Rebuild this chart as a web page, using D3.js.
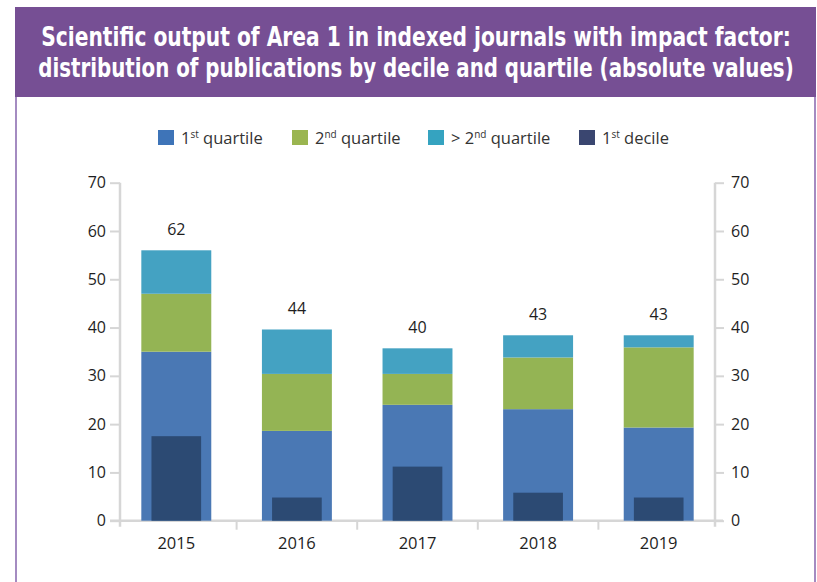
<!DOCTYPE html>
<html>
<head>
<meta charset="utf-8">
<script src="https://cdn.jsdelivr.net/npm/d3@7"></script>
<style>
  html, body { margin: 0; padding: 0; background: #ffffff; }
  svg { display: block; }
</style>
</head>
<body>
<svg id="chart" width="817" height="582"></svg>
<script>
// ---- data ----
const years = ["2015", "2016", "2017", "2018", "2019"];
const quartile1 = [35, 18.6, 24, 23.1, 19.3];
const quartile2 = [12, 11.8, 6.4, 10.7, 16.6];
const aboveQuartile2 = [9, 9.2, 5.3, 4.6, 2.5];
const decile1 = [17.5, 4.8, 11.2, 5.8, 4.8];
const totalLabels = [62, 44, 40, 43, 43];
const yTicks = [0, 10, 20, 30, 40, 50, 60, 70];
const titleLines = [
  "Scientific output of Area 1 in indexed journals with impact factor:",
  "distribution of publications by decile and quartile (absolute values)"
];

const colors = {
  q1: "#4a78b4",
  q2: "#94b454",
  gt2: "#44a2c2",
  dec: "#2c4a73"
};
const legendColors = ["#3e74b8", "#9ab550", "#35a3c0", "#3a4670"];

const svg = d3.select("#chart");
const bodyFont = "'Open Sans', 'Noto Sans', sans-serif";

// ---- frame ----
svg.append("rect").attr("x", 15).attr("y", 7).attr("width", 801).attr("height", 90)
  .attr("fill", "#764f94");
svg.append("line").attr("x1", 16).attr("x2", 16).attr("y1", 97).attr("y2", 582)
  .attr("stroke", "#a48bc1").attr("stroke-width", 2);
svg.append("line").attr("x1", 815).attr("x2", 815).attr("y1", 97).attr("y2", 582)
  .attr("stroke", "#a48bc1").attr("stroke-width", 2);

// ---- title ----
const titleWidths = [750, 756];
const titleBaselines = [46, 77];
titleLines.forEach((t, i) => {
  const g = svg.append("g");
  const el = g.append("text")
    .attr("x", 0).attr("y", 0)
    .attr("text-anchor", "middle")
    .attr("fill", "#ffffff")
    .style("font-family", "'DejaVu Sans Condensed', 'Liberation Sans Narrow', sans-serif")
    .style("font-weight", "bold")
    .style("font-size", "26px")
    .text(t);
  const w = el.node().getComputedTextLength();
  const sx = w > 0 ? titleWidths[i] / w : 1;
  g.attr("transform", `translate(416,${titleBaselines[i]}) scale(${sx},1)`);
});

// ---- scales ----
const x = d3.scaleBand().domain(years).range([116, 719]).paddingInner(0.42).paddingOuter(0.21);
const y = d3.scaleLinear().domain([0, 70]).range([520.7, 182.7]);

const axisColor = "#d6d6d6";

// ---- axes ----
const leftAxis = svg.append("g").attr("transform", "translate(120,0)")
  .call(d3.axisLeft(y).tickValues(yTicks).tickSize(10).tickPadding(4).tickFormat(d3.format("d")));
const rightAxis = svg.append("g").attr("transform", "translate(715,0)")
  .call(d3.axisRight(y).tickValues(yTicks).tickSize(9).tickPadding(7).tickFormat(d3.format("d")));
[leftAxis, rightAxis].forEach(a => {
  a.select(".domain").attr("stroke", axisColor).attr("stroke-width", 2.5)
    .attr("d", `M0,${y(70)}V${y(0) + 6}`);
  a.selectAll(".tick line").attr("stroke", axisColor).attr("stroke-width", 2);
  a.selectAll(".tick text").attr("fill", "#1e1e1e").style("font-family", bodyFont).style("font-size", "16px");
});

// x baseline
svg.append("line").attr("x1", 110).attr("x2", 723).attr("y1", y(0)).attr("y2", y(0))
  .attr("stroke", axisColor).attr("stroke-width", 2.5);
// category separator ticks
const separators = years.slice(0, -1).map(d => x(d) + x.bandwidth() / 2 + x.step() / 2);
svg.selectAll(".sep").data(separators).enter().append("line")
  .attr("x1", d => d).attr("x2", d => d).attr("y1", y(0)).attr("y2", y(0) + 9)
  .attr("stroke", axisColor).attr("stroke-width", 2);
// year labels
svg.selectAll(".year").data(years).enter().append("text")
  .attr("x", d => x(d) + x.bandwidth() / 2).attr("y", 549)
  .attr("text-anchor", "middle").attr("fill", "#1e1e1e")
  .style("font-family", bodyFont).style("font-size", "16.5px")
  .text(d => d);

// ---- stacked bars ----
const rows = years.map((yr, i) => ({ year: yr, q1: quartile1[i], q2: quartile2[i], gt2: aboveQuartile2[i], dec: decile1[i], label: totalLabels[i] }));
const stack = d3.stack().keys(["q1", "q2", "gt2"])(rows);
svg.append("g").selectAll("g").data(stack).enter().append("g")
  .attr("fill", s => colors[s.key])
  .selectAll("rect").data(s => s).enter().append("rect")
  .attr("x", d => x(d.data.year))
  .attr("width", x.bandwidth())
  .attr("y", d => y(d[1]))
  .attr("height", d => y(d[0]) - y(d[1]));

// decile inner bars
const inset = x.bandwidth() * 0.145;
svg.append("g").selectAll("rect").data(rows).enter().append("rect")
  .attr("x", d => x(d.year) + inset)
  .attr("width", x.bandwidth() - 2 * inset)
  .attr("y", d => y(d.dec))
  .attr("height", d => y(0) - y(d.dec))
  .attr("fill", colors.dec);

// total labels
svg.append("g").selectAll("text").data(rows).enter().append("text")
  .attr("x", d => x(d.year) + x.bandwidth() / 2)
  .attr("y", d => y(d.q1 + d.q2 + d.gt2) - 15)
  .attr("text-anchor", "middle").attr("fill", "#1e1e1e")
  .style("font-family", bodyFont).style("font-size", "16px")
  .text(d => d.label);

// ---- legend ----
const legendItems = [
  { pre: "1", sup: "st", post: " quartile", x: 158 },
  { pre: "2", sup: "nd", post: " quartile", x: 292 },
  { pre: "> 2", sup: "nd", post: " quartile", x: 428 },
  { pre: "1", sup: "st", post: " decile", x: 579 }
];
const lg = svg.append("g");
legendItems.forEach((it, i) => {
  lg.append("rect").attr("x", it.x).attr("y", 130).attr("width", 16).attr("height", 15)
    .attr("fill", legendColors[i]);
  const t = lg.append("text").attr("x", it.x + 23).attr("y", 144)
    .attr("fill", "#333").style("font-family", bodyFont).style("font-size", "16.5px");
  t.append("tspan").text(it.pre);
  t.append("tspan").attr("dy", -6).style("font-size", "10px").text(it.sup);
  t.append("tspan").attr("dy", 6).text(it.post);
});
</script>
</body>
</html>
